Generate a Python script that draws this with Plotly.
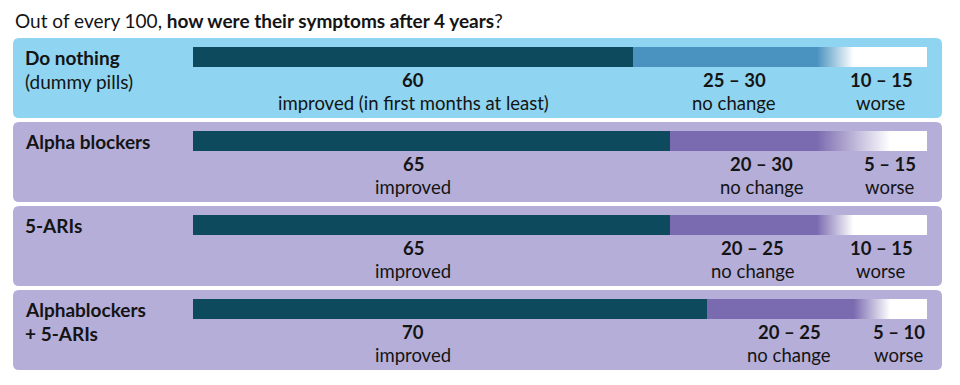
import plotly.graph_objects as go

# ---------------- data ----------------
groups = ["Do nothing", "Alpha blockers", "5-ARIs", "Alphablockers + 5-ARIs"]
label_line1 = ["Do nothing", "Alpha blockers", "5-ARIs", "Alphablockers"]
label_line2 = ["(dummy pills)", "", "", "+ 5-ARIs"]
label_line2_bold = [False, False, False, True]
improved = [60, 65, 65, 70]
no_change_low = [25, 20, 20, 20]
no_change_high = [30, 30, 25, 25]
worse_low = [10, 5, 10, 5]
worse_high = [15, 15, 15, 10]
improved_text = ["improved (in first months at least)", "improved", "improved", "improved"]
total = 100

# ---------------- style ----------------
OFF = 8                      # browser default body margin
FW, FH = 960 - OFF, 385 - OFF
BAR_X0, BAR_X1 = 193, 927    # page-pixel span of 0..100
PX_PER_UNIT = (BAR_X1 - BAR_X0) / total
x_lo = -(BAR_X0 - OFF) / PX_PER_UNIT
x_hi = (FW - (BAR_X0 - OFF)) / PX_PER_UNIT

def PX(p):  # page x pixel -> paper
    return (p - OFF) / FW

def PY(p):  # page y pixel -> y data
    return p - OFF

PANEL_TOP0, PANEL_STEP, PANEL_H = 38, 84, 80
PANEL_L, PANEL_R = 13, 942
DARK = "#0d4a5e"
MID = ["#4a93c0", "#7a6bb0", "#7a6bb0", "#7a6bb0"]
PANEL_BG = ["#8fd4f0", "#b4aed8", "#b4aed8", "#b4aed8"]
TXT = "#141414"
FONT = "Lato"
FS_LABEL = 19
FS_VAL = 18.5
FS_TITLE = 19

fig = go.Figure()

def rrect(x0, y0, x1, y1, r):
    rx = r / FW
    return (f"M {x0+rx},{y0} L {x1-rx},{y0} Q {x1},{y0} {x1},{y0+r} "
            f"L {x1},{y1-r} Q {x1},{y1} {x1-rx},{y1} L {x0+rx},{y1} "
            f"Q {x0},{y1} {x0},{y1-r} L {x0},{y0+r} Q {x0},{y0} {x0+rx},{y0} Z")

shapes = []
annotations = []
for i, g in enumerate(groups):
    top = PANEL_TOP0 + PANEL_STEP * i
    shapes.append(dict(type="path", xref="paper", yref="y",
                       path=rrect(PX(PANEL_L), PY(top), PX(PANEL_R), PY(top + PANEL_H), 6),
                       fillcolor=PANEL_BG[i], line=dict(width=0), layer="below"))
    yc = PY(top + 19)
    ylist = [yc]
    fig.add_trace(go.Bar(x=[total], y=ylist, base=[0], orientation="h", width=20,
                         marker=dict(color="white", line=dict(width=0)),
                         hoverinfo="skip", showlegend=False))
    fig.add_trace(go.Bar(x=[improved[i]], y=ylist, base=[0], orientation="h", width=20,
                         marker=dict(color=DARK, line=dict(width=0)),
                         hoverinfo="skip", showlegend=False))
    fig.add_trace(go.Bar(x=[no_change_low[i]], y=ylist, base=[improved[i]], orientation="h", width=20,
                         marker=dict(color=MID[i], line=dict(width=0)),
                         hoverinfo="skip", showlegend=False))
    a = improved[i] + no_change_low[i]
    b = improved[i] + no_change_high[i]
    fig.add_trace(go.Scatter(x=[a, b, b, a, a], y=[yc - 10, yc - 10, yc + 10, yc + 10, yc - 10],
                             mode="lines", line=dict(width=0), fill="toself",
                             fillgradient=dict(type="horizontal", start=a, stop=b,
                                               colorscale=[[0, MID[i]], [1, "white"]]),
                             hoverinfo="skip", showlegend=False))

    annotations.append(dict(xref="paper", yref="y", x=PX(23), y=PY(top + 19), text=f"<b>{label_line1[i]}</b>",
                            showarrow=False, xanchor="left", yanchor="middle",
                            font=dict(family=FONT, size=FS_LABEL, color=TXT)))
    if label_line2[i]:
        t = f"<b>{label_line2[i]}</b>" if label_line2_bold[i] else label_line2[i]
        annotations.append(dict(xref="paper", yref="y", x=PX(23), y=PY(top + 43), text=t,
                                showarrow=False, xanchor="left", yanchor="middle",
                                font=dict(family=FONT, size=FS_LABEL, color=TXT)))

    nc_avg = (no_change_low[i] + no_change_high[i]) / 2
    x_imp = min(improved) / 2
    x_nc = (improved[i] + improved[i] + nc_avg) / 2
    x_w = (improved[i] + nc_avg + total) / 2
    for xv, num, lab in [(x_imp, f"{improved[i]}", improved_text[i]),
                         (x_nc, f"{no_change_low[i]} – {no_change_high[i]}", "no change"),
                         (x_w, f"{worse_low[i]} – {worse_high[i]}", "worse")]:
        annotations.append(dict(xref="x", yref="y", x=xv, y=PY(top + 42), text=f"<b>{num}</b>",
                                showarrow=False, xanchor="center", yanchor="middle",
                                font=dict(family=FONT, size=FS_VAL, color=TXT)))
        annotations.append(dict(xref="x", yref="y", x=xv, y=PY(top + 64.5), text=lab,
                                showarrow=False, xanchor="center", yanchor="middle",
                                font=dict(family=FONT, size=FS_VAL, color=TXT)))

annotations.append(dict(xref="paper", yref="y", x=PX(13), y=PY(20),
                        text="Out of every 100, <b>how were their symptoms after 4 years</b>?",
                        showarrow=False, xanchor="left", yanchor="middle",
                        font=dict(family=FONT, size=FS_TITLE, color=TXT)))

fig.update_layout(
    width=FW, height=FH, margin=dict(l=0, r=0, t=0, b=0),
    paper_bgcolor="white", plot_bgcolor="rgba(0,0,0,0)",
    barmode="overlay", bargap=0,
    xaxis=dict(range=[x_lo, x_hi], visible=False, fixedrange=True),
    yaxis=dict(range=[FH, 0], visible=False, fixedrange=True),
    shapes=shapes, annotations=annotations,
    showlegend=False,
)

fig.write_html("out.html")
